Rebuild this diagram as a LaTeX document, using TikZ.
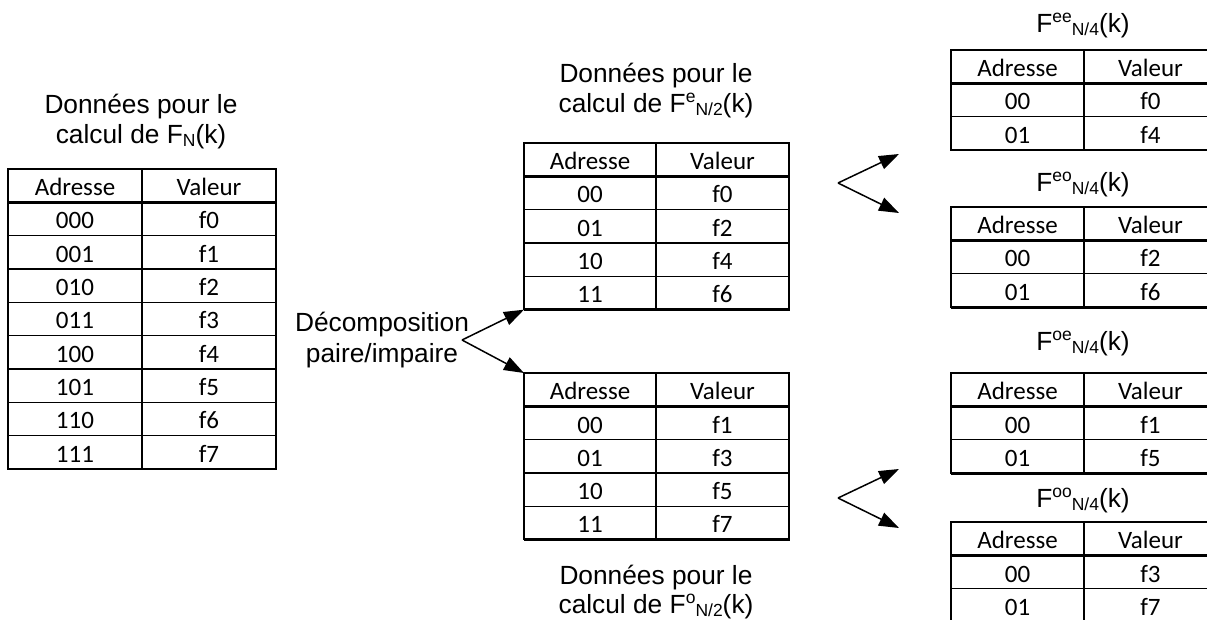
\documentclass[tikz,border=0pt]{standalone}
\usepackage{fontspec}
\setmainfont{Liberation Sans}
\newfontfamily\tabfont{Carlito}
\usetikzlibrary{arrows.meta}
\newcommand\smallfs{\fontsize{17.5}{17.5}\selectfont}
\newcommand\Fsup[2]{F\raisebox{10pt}{\smallfs #1}\raisebox{-3pt}{\smallfs #2}(k)}
\newcommand\Fsb[1]{F\raisebox{-3pt}{\smallfs #1}(k)}
\tikzset{
  title/.style={font=\fontsize{26.3}{30.5}\selectfont, inner sep=0pt, anchor=base},
  cell/.style={font=\tabfont\fontsize{25}{30}\selectfont, inner sep=0pt, anchor=base},
  gridline/.style={line width=1.3pt},
  hdrline/.style={line width=2.8pt},
  shadeline/.style={line width=2.8pt},
  arr/.style={line width=1.5pt, -{Triangle[length=20pt,width=14pt]}},
  tbox/.style={inner sep=0pt, outer sep=0pt, anchor=north west, draw=none}
}
% #1 name, #2 x left, #3 x column, #4 x right, #5 y top, #6 number of rows, #7 rows a/b
\newcommand\ftable[7]{%
  \pgfmathsetmacro\ftH{#5+33.5}%
  \pgfmathsetmacro\ftB{#5+33.5+#6*33.3}%
  \pgfmathsetmacro\ftW{#4-#2}%
  \pgfmathsetmacro\ftHt{\ftB-#5}%
  \pgfmathsetmacro\xa{(#2+#3)/2}%
  \pgfmathsetmacro\xb{(#3+#4)/2}%
  \node[tbox, minimum width=\ftW pt, minimum height=\ftHt pt] (#1) at (#2,#5) {};
  \draw[gridline] (#2,#5) rectangle (#4,\ftB);
  \draw[gridline] (#3,#5) -- (#3,\ftB);
  \foreach \i in {1,...,#6} {
    \pgfmathsetmacro\yy{#5+33.5+\i*33.3}
    \draw[gridline] (#2,\yy) -- (#4,\yy);
  }
  \draw[hdrline] (#2,\ftH) -- (#4,\ftH);
  \draw[shadeline] (#4,#5) -- (#4,\ftB) -- (#2,\ftB);
  \node[cell] (#1-h1) at (\xa,#5+26.5) {Adresse};
  \node[cell] (#1-h2) at (\xb,#5+26.5) {Valeur};
  \foreach \a/\b [count=\i] in {#7} {
    \pgfmathsetmacro\yy{#5+33.5+(\i-1)*33.3+26.5}
    \node[cell] (#1-a\i) at (\xa,\yy) {\a};
    \node[cell] (#1-b\i) at (\xb,\yy) {\b};
  }
}
\begin{document}
\begin{tikzpicture}[x=1pt,y=-1pt]
\useasboundingbox (0,0) rectangle (1207,620);
\clip (0,0) rectangle (1207,620);

% left table
\node[title] (tL1) at (141,114) {Données pour le};
\node[title] (tL2) at (141,144) {calcul de \Fsb{N}};
\ftable{tN}{8}{142}{276}{169}{8}{000/f0,001/f1,010/f2,011/f3,100/f4,101/f5,110/f6,111/f7}

% middle
\node[title] (tM1) at (656,83) {Données pour le};
\node[title] (tM2) at (656,113) {calcul de \Fsup{e}{N/2}};
\ftable{tE}{524}{656}{789}{143}{4}{00/f0,01/f2,10/f4,11/f6}
\ftable{tO}{524}{656}{789}{373}{4}{00/f1,01/f3,10/f5,11/f7}
\node[title] (tB1) at (656,584) {Données pour le};
\node[title] (tB2) at (656,613) {calcul de \Fsup{o}{N/2}};

\node[title] (dec1) at (382,331) {Décomposition};
\node[title] (dec2) at (382,362) {paire/impaire};
\coordinate (d1) at (462,340);
\draw[arr] (d1) -- (tE.south west);
\draw[arr] (d1) -- (tO.north west);

% right
\node[title] (tee) at (1083,33) {\Fsup{ee}{N/4}};
\ftable{tEE}{951}{1084}{1217}{50}{2}{00/f0,01/f4}
\node[title] (teo) at (1083,192) {\Fsup{eo}{N/4}};
\ftable{tEO}{951}{1084}{1217}{207}{2}{00/f2,01/f6}
\node[title] (toe) at (1083,350) {\Fsup{oe}{N/4}};
\ftable{tOE}{951}{1084}{1217}{373}{2}{00/f1,01/f5}
\node[title] (too) at (1083,507) {\Fsup{oo}{N/4}};
\ftable{tOO}{951}{1084}{1217}{522}{2}{00/f3,01/f7}

\coordinate (v2) at (838,183);
\coordinate (p2a) at (899,154);
\coordinate (p2b) at (899,213);
\draw[arr] (v2) -- (p2a);
\draw[arr] (v2) -- (p2b);
\coordinate (v3) at (838,498);
\coordinate (p3a) at (899,469);
\coordinate (p3b) at (899,528);
\draw[arr] (v3) -- (p3a);
\draw[arr] (v3) -- (p3b);
\end{tikzpicture}
\end{document}
